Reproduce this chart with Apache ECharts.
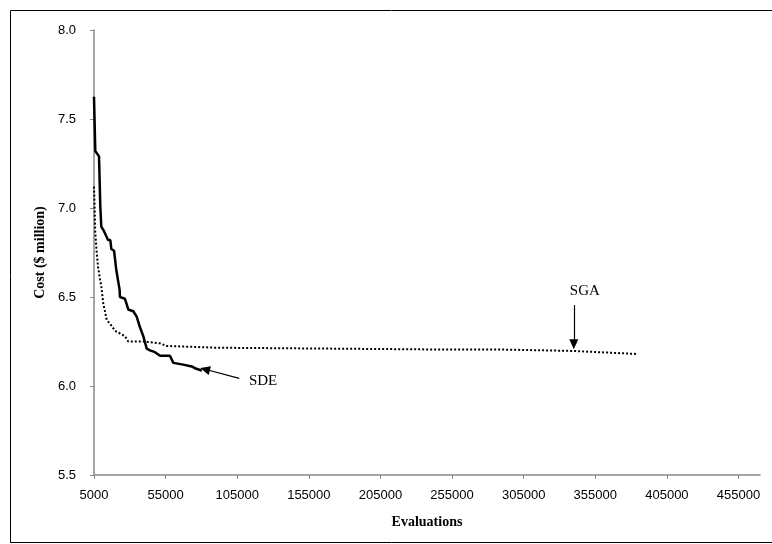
<!DOCTYPE html>
<html>
<head>
<meta charset="utf-8">
<script src="https://cdn.jsdelivr.net/npm/echarts@6/dist/echarts.min.js"></script>
<style>
html,body{margin:0;padding:0;background:#fff;}
#chart{width:772px;height:544px;}
</style>
</head>
<body>
<div id="chart"></div>
<script>
// SDE (solid) : [evaluations, cost]
const sdeEval = [5000, 5900, 8500, 9400, 10100, 12000, 14800, 16400, 17100, 19000, 20600, 22900, 23100, 26600, 27800, 28900, 32400, 34800, 37100, 39400, 41800, 44100, 47600, 51100, 58000, 60400, 67300, 73200, 75500, 79000, 80200];
const sdeCost = [7.625, 7.32, 7.29, 7.01, 6.895, 6.87, 6.82, 6.82, 6.77, 6.76, 6.65, 6.54, 6.50, 6.49, 6.46, 6.43, 6.42, 6.39, 6.33, 6.28, 6.21, 6.20, 6.19, 6.17, 6.17, 6.13, 6.12, 6.11, 6.10, 6.09, 6.085];
// SGA (dotted)
const sgaEval = [5000, 5900, 6900, 7800, 9200, 10100, 11500, 12400, 13900, 16200, 19700, 26600, 28900, 39400, 51000, 55700, 90600, 170000, 246500, 288400, 339300, 384000];
const sgaCost = [7.12, 6.86, 6.75, 6.67, 6.60, 6.56, 6.46, 6.43, 6.37, 6.35, 6.31, 6.28, 6.25, 6.25, 6.24, 6.225, 6.215, 6.21, 6.205, 6.205, 6.197, 6.18];
const xTicks = [5000, 55000, 105000, 155000, 205000, 255000, 305000, 355000, 405000, 455000];
const yTicks = [5.5, 6.0, 6.5, 7.0, 7.5, 8.0];

const zip = (a, b) => a.map((v, i) => [v, b[i]]);
const labelFont = "'Liberation Sans Narrow', 'Liberation Sans', Arial, sans-serif";
const titleFont = "'Liberation Serif', 'Times New Roman', serif";

const chart = echarts.init(document.getElementById('chart'), null, {renderer: 'canvas'});
chart.setOption({
  animation: false,
  backgroundColor: '#fff',
  graphic: [{
    type: 'rect', left: 8, top: 8, shape: {width: 762, height: 532},
    style: {fill: 'none', stroke: '#000', lineWidth: 1}, silent: true
  }],
  grid: {left: 94, top: 30, right: 12, bottom: 69},
  xAxis: {
    type: 'value', min: 5000, max: 470000,
    name: 'Evaluations', nameLocation: 'middle', nameGap: 40,
    nameTextStyle: {fontFamily: titleFont, fontWeight: 'bold', fontSize: 14, color: '#000'},
    axisLine: {show: true, onZero: false, lineStyle: {color: '#888', width: 1.5}},
    axisTick: {show: true, length: 4, customValues: xTicks, lineStyle: {color: '#888'}},
    axisLabel: {customValues: xTicks, margin: 14, fontFamily: labelFont, fontSize: 13, color: '#000', formatter: v => String(v)},
    splitLine: {show: false}
  },
  yAxis: {
    type: 'value', min: 5.5, max: 8.0, interval: 0.5,
    name: 'Cost ($ million)', nameLocation: 'middle', nameGap: 46, nameRotate: 90,
    nameTextStyle: {fontFamily: titleFont, fontWeight: 'bold', fontSize: 14, color: '#000'},
    axisLine: {show: true, onZero: false, lineStyle: {color: '#888', width: 1.5}},
    axisTick: {show: true, length: 4, lineStyle: {color: '#888'}},
    axisLabel: {margin: 18, fontFamily: labelFont, fontSize: 13, color: '#000', formatter: v => v.toFixed(1)},
    splitLine: {show: false}
  },
  series: [
    {
      name: 'SGA', type: 'line', data: zip(sgaEval, sgaCost), showSymbol: false,
      lineStyle: {color: '#000', width: 2, type: [2, 2]},
      markLine: {
        silent: true, symbol: ['none', 'triangle'], symbolSize: [9, 10],
        lineStyle: {color: '#000', width: 1.2, type: 'solid'},
        label: {show: true, position: 'start', formatter: 'SGA', fontFamily: titleFont, fontSize: 15, color: '#000', distance: 6, offset: [11, 0]},
        data: [[{coord: [340000, 6.455]}, {coord: [340000, 6.234]}]]
      }
    },
    {
      name: 'SDE', type: 'line', data: zip(sdeEval, sdeCost), showSymbol: false,
      lineStyle: {color: '#000', width: 2.5, type: 'solid'},
      markLine: {
        silent: true, symbol: ['none', 'triangle'], symbolSize: [9, 10],
        lineStyle: {color: '#000', width: 1.2, type: 'solid'},
        label: {show: true, position: 'start', formatter: 'SDE', fontFamily: titleFont, fontSize: 15, color: '#000', distance: 10},
        data: [[{coord: [106400, 6.043]}, {coord: [82500, 6.094]}]]
      }
    }
  ]
});
</script>
</body>
</html>
